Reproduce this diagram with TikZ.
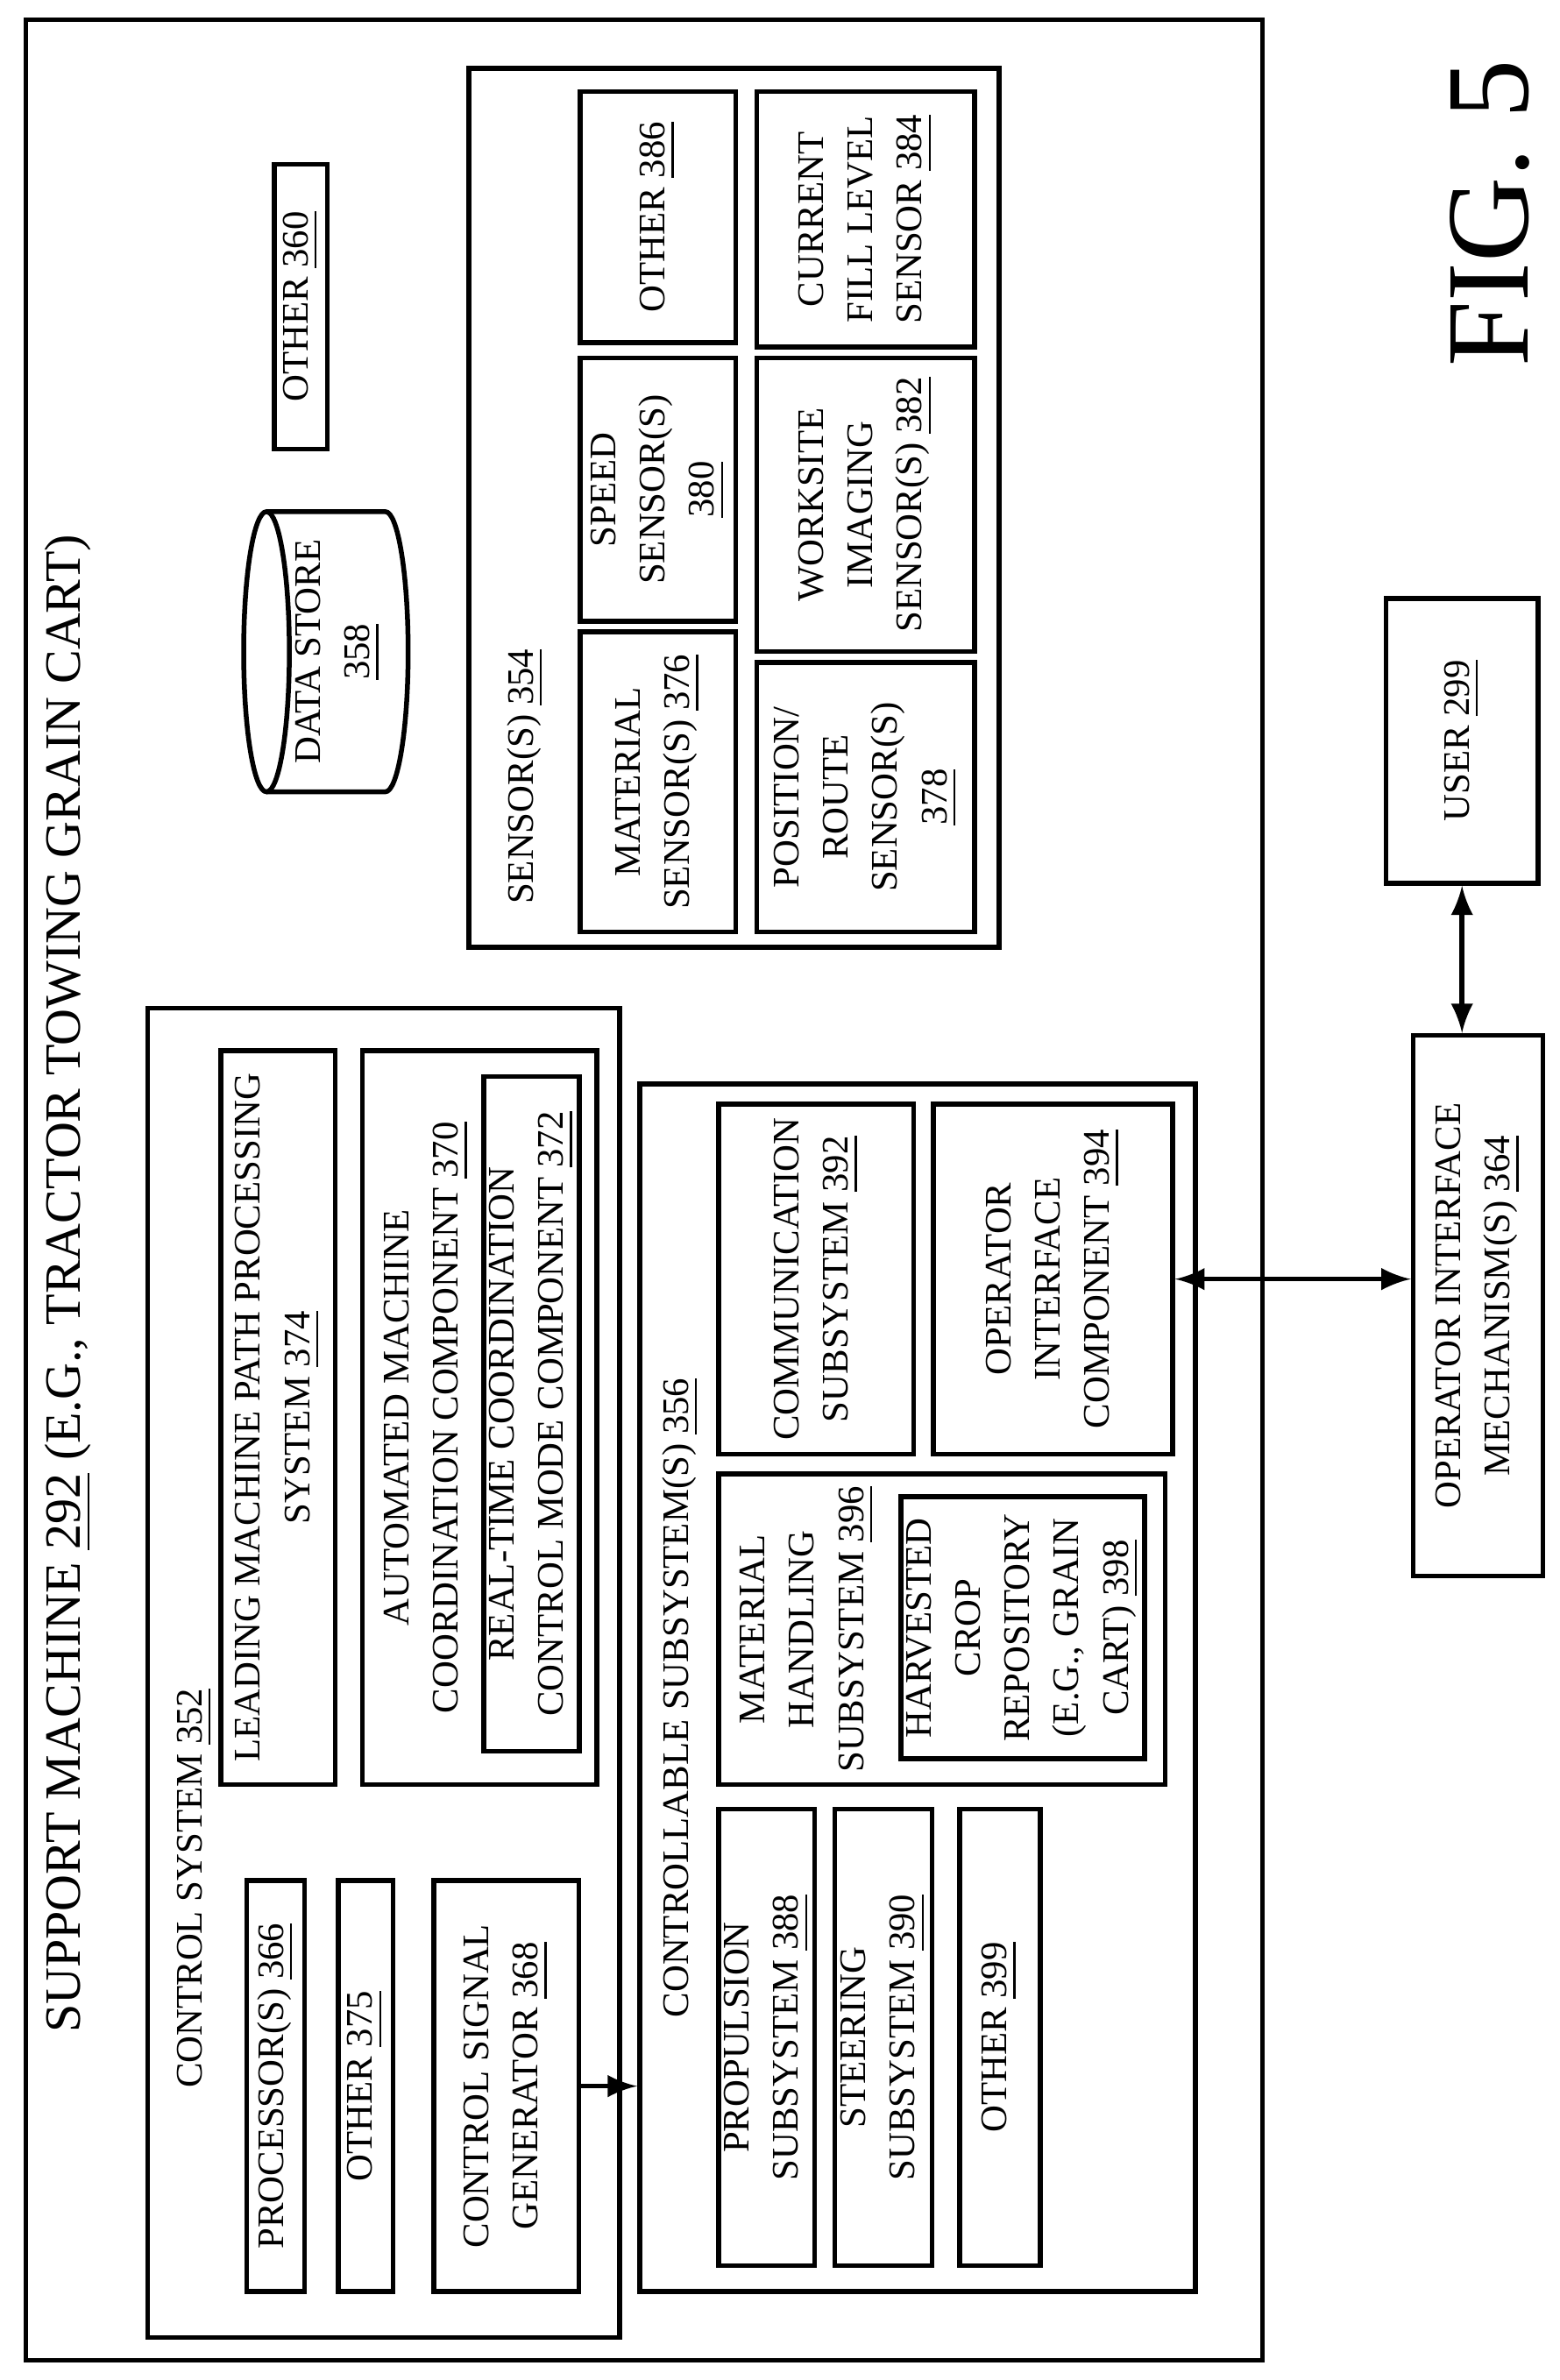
\documentclass[tikz,border=0pt]{standalone}
\usepackage{fontspec}
\setmainfont{Liberation Serif}
\tikzset{
    box/.style={draw, line width=0.9pt, rotate=90, inner sep=1pt, align=center,
        font=\fontsize{7}{9.2}\selectfont},
    txt/.style={rotate=90, inner sep=0pt, align=center,
        font=\fontsize{7}{9.2}\selectfont},
    link/.style={line width=0.9pt, >=latex}
}
% name, x1, y1, x2, y2, text
\newcommand{\blk}[6]{\node[box, minimum width={(#5-#3)*0.01cm},
    minimum height={(#4-#2)*0.01cm}] (#1) at ({(#2+#4)/2},{(#3+#5)/2}) {#6};}
\newcommand{\un}[1]{\underline{#1}}

\begin{document}
\begin{tikzpicture}[x=0.01cm, y=-0.01cm]
	\useasboundingbox (0,0) rectangle (1024,1563);

	\blk{sm}{17}{13}{829}{1550}{}
	\node[txt, font=\fontsize{9.5}{11}\selectfont] (smlab) at (45,843) {SUPPORT MACHINE \un{292} (E.G., TRACTOR TOWING GRAIN CART)};
	\node[txt, font=\fontsize{22}{25}\selectfont] (fig) at (978,140) {FIG. 5};

	% data store
	\draw[line width=0.9pt] (175,428) ellipse [x radius=15, y radius=92];
	\draw[line width=0.9pt] (175,336) -- (253,336)
		arc[start angle=-90, end angle=90, x radius=15, y radius=92] -- (175,520);
	\node[txt] (dslab) at (222,428) {DATA STORE\\\un{358}};
	\blk{o360}{180}{108}{215}{295}{OTHER \un{360}}

	% sensors
	\blk{sens}{308}{45}{656}{622}{}
	\node[txt] (senslab) at (345,510) {SENSOR(S) \un{354}};
	\blk{s376}{381}{415}{483}{612}{MATERIAL\\SENSOR(S) \un{376}}
	\blk{s380}{381}{235}{483}{408}{SPEED\\SENSOR(S)\\\un{380}}
	\blk{s386}{381}{60}{483}{225}{OTHER \un{386}}
	\blk{s378}{497}{435}{640}{612}{POSITION/\\ROUTE\\SENSOR(S)\\\un{378}}
	\blk{s382}{497}{235}{640}{428}{WORKSITE\\IMAGING\\SENSOR(S) \un{382}}
	\blk{s384}{497}{60}{640}{228}{CURRENT\\FILL LEVEL\\SENSOR \un{384}}

	% control system
	\blk{cs}{97}{662}{407}{1535}{}
	\node[txt] (cslab) at (128,1240) {CONTROL SYSTEM \un{352}};
	\blk{c374}{145}{690}{220}{1172}{LEADING MACHINE PATH PROCESSING\\SYSTEM \un{374}}
	\blk{c370}{238}{690}{392}{1172}{}
	\node[txt] (c370lab) at (280,931) {AUTOMATED MACHINE\\COORDINATION COMPONENT \un{370}};
	\blk{c372}{318}{707}{380}{1150}{REAL-TIME COORDINATION\\CONTROL MODE COMPONENT \un{372}}
	\blk{c366}{162}{1235}{200}{1505}{PROCESSOR(S) \un{366}}
	\blk{c375}{222}{1235}{258}{1505}{OTHER \un{375}}
	\blk{c368}{285}{1235}{380}{1505}{CONTROL SIGNAL\\GENERATOR \un{368}}

	% controllable subsystems
	\blk{cts}{420}{712}{785}{1505}{}
	\node[txt] (ctslab) at (447,1115) {CONTROLLABLE SUBSYSTEM(S) \un{356}};
	\blk{t392}{472}{725}{600}{955}{COMMUNICATION\\SUBSYSTEM \un{392}}
	\blk{t394}{613}{725}{770}{955}{OPERATOR\\INTERFACE\\COMPONENT \un{394}}
	\blk{t396}{472}{968}{765}{1172}{}
	\node[txt] (t396lab) at (530,1070) {MATERIAL\\HANDLING\\SUBSYSTEM \un{396}};
	\blk{t398}{595}{983}{748}{1155}{HARVESTED\\CROP\\REPOSITORY\\(E.G., GRAIN\\CART) \un{398}}
	\blk{t388}{472}{1188}{535}{1488}{PROPULSION\\SUBSYSTEM \un{388}}
	\blk{t390}{548}{1188}{612}{1488}{STEERING\\SUBSYSTEM \un{390}}
	\blk{t399}{630}{1188}{683}{1488}{OTHER \un{399}}

	% operator side
	\blk{oim}{928}{680}{1013}{1035}{OPERATOR INTERFACE\\MECHANISM(S) \un{364}}
	\blk{user}{910}{393}{1010}{580}{USER \un{299}}

	\draw[link, ->] (c368.south) -- (c368.south -| cts.north);
	\draw[link, <->] (t394.south) -- (t394.south -| oim.north);
	\draw[link, <->] (user.west) -- (user.west |- oim.east);
\end{tikzpicture}
\end{document}
